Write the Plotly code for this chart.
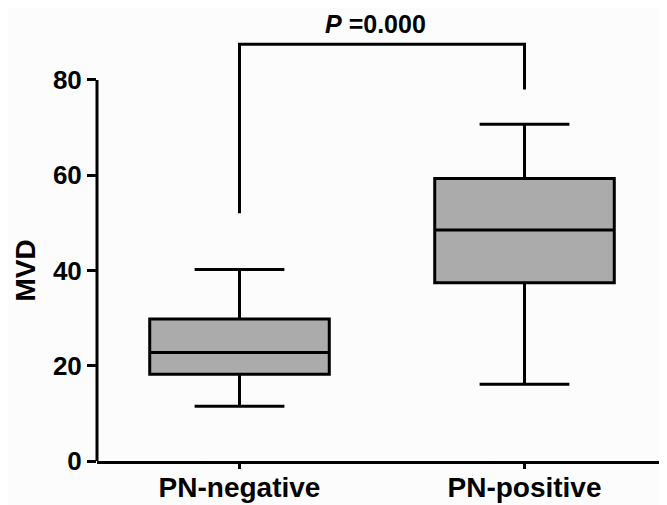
import plotly.graph_objects as go

# Data
categories = ["PN-negative", "PN-positive"]
lower_whisker = [11.5, 16.1]
q1_values = [18.2, 37.4]
median_values = [22.8, 48.5]
q3_values = [29.8, 59.3]
upper_whisker = [40.2, 70.7]

y_ticks = [0, 20, 40, 60, 80]

# significance bracket: (category index, value)
bracket_x = [0, 0, 1, 1]
bracket_y = [52.0, 87.5, 87.5, 78.0]
p_label = "<i>P</i> =0.000"
p_label_y = 91.8

FONT = "Liberation Sans, Arial, Helvetica, sans-serif"

fig = go.Figure()

fig.add_trace(go.Box(
    x=categories,
    q1=q1_values,
    median=median_values,
    q3=q3_values,
    lowerfence=lower_whisker,
    upperfence=upper_whisker,
    fillcolor="#ABABAB",
    line=dict(color="black", width=3),
    whiskerwidth=0.5,
    boxpoints=False,
    hoverinfo="skip",
    showlegend=False,
))

fig.add_trace(go.Scatter(
    x=[categories[i] for i in bracket_x],
    y=bracket_y,
    mode="lines",
    line=dict(color="black", width=3),
    hoverinfo="skip",
    showlegend=False,
))

fig.add_annotation(
    x=0.5, y=p_label_y, xref="x", yref="y",
    text=p_label, showarrow=False, xshift=-7,
    font=dict(family=FONT, size=25, color="black", weight="bold"),
)

# y-axis title centred on the tick span
fig.add_annotation(
    x=0, xref="paper", y=(y_ticks[0] + y_ticks[-1]) / 2, yref="y",
    text="MVD", textangle=-90, showarrow=False, xanchor="center", xshift=-72,
    font=dict(family=FONT, size=28, color="black", weight="bold"),
)

# y-axis line only up to the top tick
fig.add_shape(
    type="line", xref="paper", x0=0, x1=0, yref="y", y0=y_ticks[0], y1=y_ticks[-1],
    line=dict(color="black", width=3), layer="above",
)

fig.update_layout(
    width=659, height=497,
    margin=dict(l=89, r=0, t=0, b=44, pad=0),
    paper_bgcolor="#FCFCFC",
    plot_bgcolor="#FCFCFC",
    boxgap=0.37,
    boxgroupgap=0,
    font=dict(family=FONT, color="black", weight="bold"),
    xaxis=dict(
        type="category",
        range=[-0.5, 1.5],
        automargin=False,
        showline=True, linecolor="black", linewidth=3,
        ticks="outside", ticklen=5, tickwidth=3, tickcolor="black",
        ticklabelstandoff=-6,
        tickfont=dict(size=28, family=FONT, weight="bold"),
        showgrid=False, zeroline=False,
    ),
    yaxis=dict(
        range=[0, 95.1],
        tickvals=y_ticks,
        automargin=False,
        showline=False,
        ticks="outside", ticklen=9, tickwidth=3, tickcolor="black",
        tickfont=dict(size=26, family=FONT, weight="bold"),
        showgrid=False, zeroline=False,
    ),
)

fig.write_html("out.html")
